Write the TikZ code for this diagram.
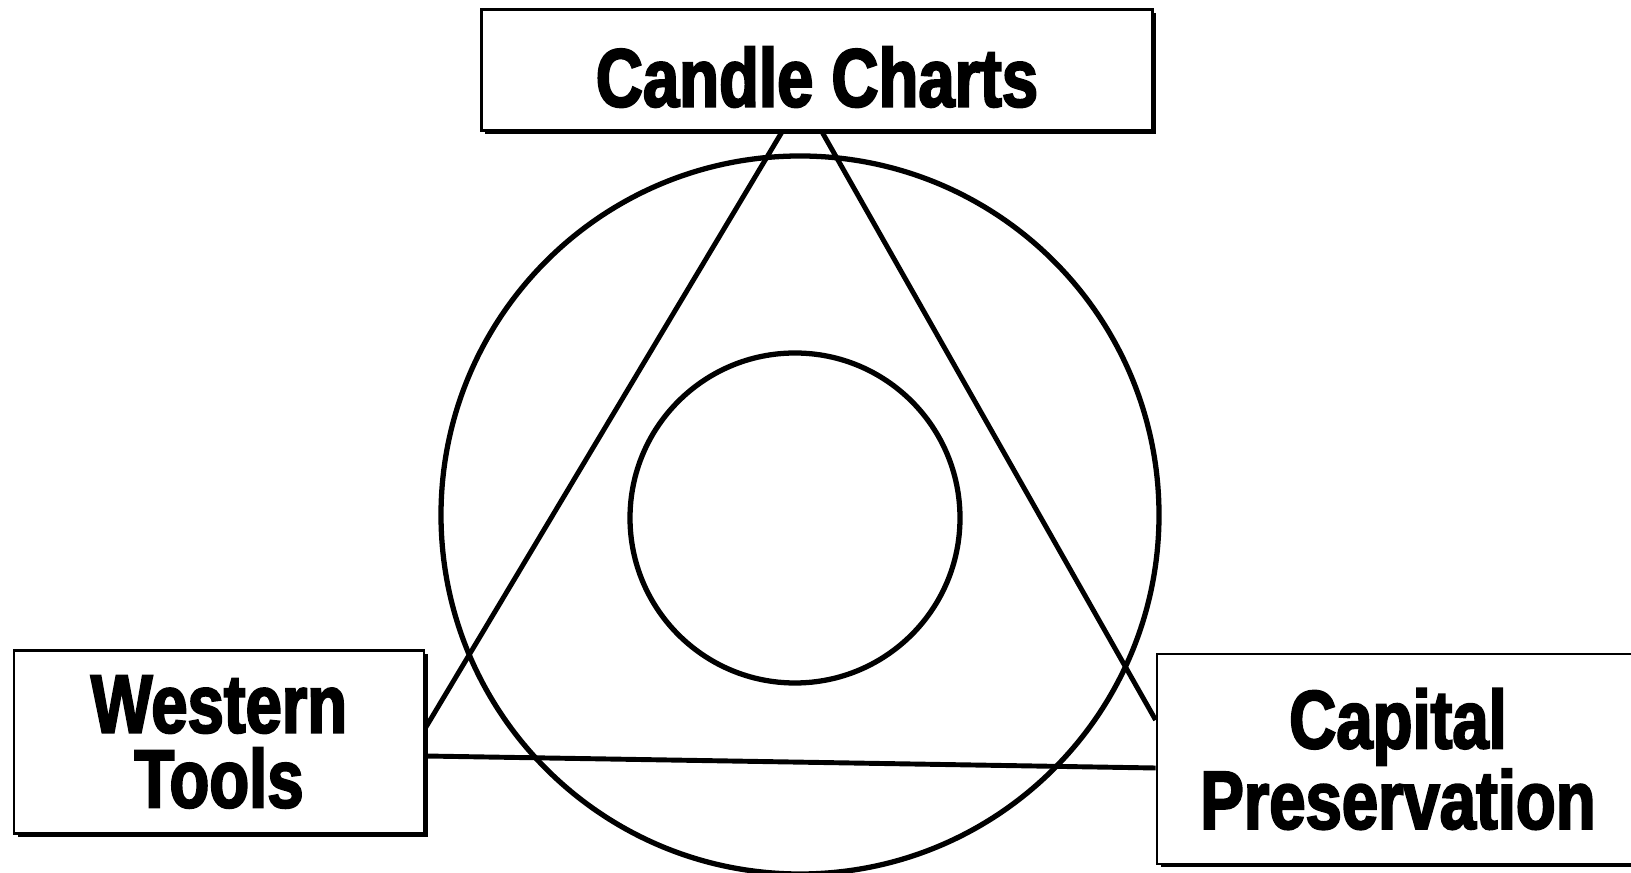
\documentclass[tikz,border=0pt]{standalone}
\usepackage{fontspec}
\newfontfamily\boxfont{Liberation Sans Bold}[FakeStretch=0.79, FakeBold=2.5]
\usepackage{tikz}
\usetikzlibrary{shadows, positioning}

\begin{document}
\begin{tikzpicture}
  \tikzstyle{labelbox}=[rectangle, draw, line width=0.8pt, fill=white, align=center,
    inner sep=0pt, font=\boxfont\fontsize{23.5}{21.3}\selectfont,
    drop shadow={shadow xshift=0.035cm, shadow yshift=-0.035cm, fill=black, opacity=1}]
  \tikzstyle{ring}=[line width=1.5pt]
  \tikzstyle{tri}=[line width=1.4pt]
  \useasboundingbox (0,0) rectangle (16.31,-8.73);
  % circles
  \draw[ring] (8.00,-5.15) circle (3.59);
  \draw[ring] (7.95,-5.18) circle (1.65);
  % boxes
  \node[labelbox, minimum width=6.71cm, minimum height=1.21cm, text height=0.74cm] (cc)
    at (8.17,-0.70) {Candle Charts};
  \node[labelbox, minimum width=4.10cm, minimum height=1.83cm] (wt) at (2.19,-7.42)
    {Western\\Tools};
  \node[labelbox, minimum width=4.82cm, minimum height=2.10cm] (cp) at (13.98,-7.59)
    {Capital\\Preservation};
  % triangle
  \draw[tri] ([xshift=-0.35cm]cc.south) -- ([yshift=0.14cm]wt.east);
  \draw[tri] ([xshift=0.05cm]cc.south) -- ([yshift=0.39cm]cp.west);
  \draw[tri] ([yshift=-0.14cm]wt.east) -- ([yshift=-0.09cm]cp.west);
\end{tikzpicture}
\end{document}
